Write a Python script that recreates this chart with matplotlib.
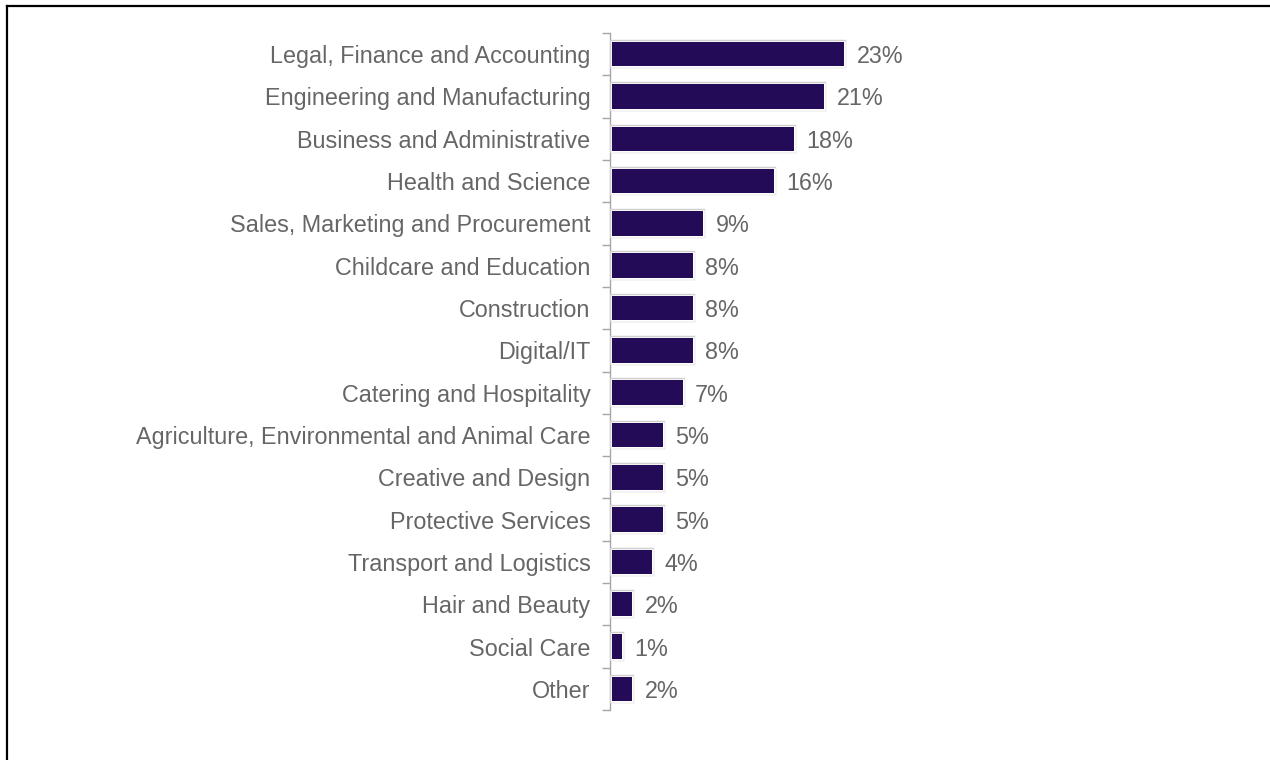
import matplotlib.pyplot as plt
import matplotlib.patheffects as pe
from matplotlib.lines import Line2D

# data
sectors = [
    "Legal, Finance and Accounting",
    "Engineering and Manufacturing",
    "Business and Administrative",
    "Health and Science",
    "Sales, Marketing and Procurement",
    "Childcare and Education",
    "Construction",
    "Digital/IT",
    "Catering and Hospitality",
    "Agriculture, Environmental and Animal Care",
    "Creative and Design",
    "Protective Services",
    "Transport and Logistics",
    "Hair and Beauty",
    "Social Care",
    "Other",
]
shares = [23, 21, 18, 16, 9, 8, 8, 8, 7, 5, 5, 5, 4, 2, 1, 2]

bar_colour = "#230B57"
text_colour = "#666666"
axis_colour = "#A6A6A6"
fs = 16.8

plt.rcParams["font.family"] = ["Liberation Sans", "DejaVu Sans"]

W, H = 1270, 760
fig = plt.figure(figsize=(W / 100, H / 100), dpi=100)

# axes placed in pixel terms
ax_left, ax_top, ax_bottom = 610, 33, 710
ax = fig.add_axes([ax_left / W, (H - ax_bottom) / H, 500 / W, (ax_bottom - ax_top) / H])

ypos = list(range(len(sectors)))
bars = ax.barh(ypos, shares, height=0.58, color=bar_colour, zorder=3)
for b in bars:
    b.set_path_effects([
        pe.Stroke(linewidth=3.2, foreground="#D0D0D0"),
        pe.Stroke(linewidth=1.8, foreground="white"),
        pe.Normal(),
    ])

for y, v in zip(ypos, shares):
    ax.annotate(f"{v}%", xy=(v, y), xytext=(9, 0), textcoords="offset points",
                ha="left", va="center_baseline", fontsize=fs, color=text_colour)

ax.set_xlim(-0.2, 49.3)
ax.set_ylim(len(sectors) - 0.5, -0.5)

ax.set_yticks(ypos)
ax.set_yticklabels(sectors, fontsize=fs, color=text_colour, va="center_baseline")
ax.set_yticks([i - 0.5 for i in range(len(sectors) + 1)], minor=True)
ax.tick_params(axis="y", which="major", length=0, pad=14)
ax.tick_params(axis="y", which="minor", length=6, width=1, color=axis_colour)
ax.set_xticks([])

for s in ["top", "right", "bottom"]:
    ax.spines[s].set_visible(False)
ax.spines["left"].set_color(axis_colour)
ax.spines["left"].set_linewidth(1)

# cropped black frame around the chart
fig.add_artist(Line2D([7 / W, 1.0], [1 - 6 / H, 1 - 6 / H], color="black", lw=1.6))
fig.add_artist(Line2D([7 / W, 7 / W], [0.0, 1 - 6 / H], color="black", lw=1.6))

fig.savefig("out.png", dpi=100)
